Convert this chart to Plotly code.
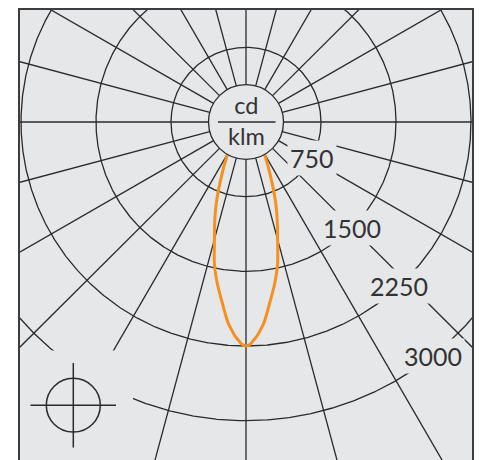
import numpy as np
import plotly.graph_objects as go

# ---- data (cd/klm) ----
ring_values = [750, 1500, 2250, 3000]
ring_labels = ["750", "1500", "2250", "3000"]
label_angles = [61, 45, 43, 38.5]          # where each ring label sits (deg from nadir)
spoke_angles = list(range(0, 360, 15))
beam_angles = [0, 1, 2, 3, 4, 5, 6, 7.5, 10, 12.5, 15, 17.5, 20, 22.5, 25, 27.5, 30, 32.5, 35, 40, 45, 50, 55, 60]
beam_values = [2250, 2236, 2192, 2149, 2090, 2030, 1950, 1828, 1650, 1460, 1220, 1040, 870, 700, 560, 450, 360, 280, 210, 110, 50, 20, 5, 0]
hub_value = 375
unit_top = "cd"
unit_bottom = "klm"

BG = "#e6e7e9"
GRID = "#2a2a2a"
FRAME = "#3d3d3d"
ORANGE = "#f7901e"
TXT = "#333333"
FONT = "Lato"

# page offset of the figure div (body margin) is 8px
OFF = 8.0
# pixel helpers (0.1 px per cd/klm, centre at page px (246,120.5))
CX, CY, S = 246.0, 120.5, 10.0
def px2x(px): return (px - CX) * S
def py2y(py): return (CY - py) * S

def pol(r, deg):
    t = np.radians(deg)
    return r * np.sin(t), -r * np.cos(t)

fig = go.Figure()

th = np.linspace(0, 360, 1441)
for v in ring_values:
    x, y = pol(v, th)
    fig.add_trace(go.Scatter(x=x, y=y, mode="lines", line=dict(color=GRID, width=1.3),
                             hoverinfo="skip", showlegend=False))

sx, sy = [], []
for a in spoke_angles:
    x0, y0 = pol(hub_value, a)
    x1, y1 = pol(9000, a)
    sx += [x0, x1, None]
    sy += [y0, y1, None]
fig.add_trace(go.Scatter(x=sx, y=sy, mode="lines", line=dict(color=GRID, width=1.3),
                         hoverinfo="skip", showlegend=False))

ang = np.array([-a for a in beam_angles[::-1]] + beam_angles[1:], dtype=float)
val = np.array(beam_values[::-1] + beam_values[1:], dtype=float)
bx, by = pol(val, ang)
fig.add_trace(go.Scatter(x=bx, y=by, mode="lines",
                         line=dict(color=ORANGE, width=3, shape="spline", smoothing=0.8),
                         hoverinfo="skip", showlegend=False))

shapes = [
    # mask for luminaire symbol
    dict(type="rect", xref="x", yref="y", x0=px2x(21.5), x1=px2x(133), y0=py2y(350), y1=py2y(480),
         fillcolor=BG, line=dict(width=0), layer="above"),
    # hub
    dict(type="circle", xref="x", yref="y", x0=-hub_value, y0=-hub_value, x1=hub_value, y1=hub_value,
         fillcolor=BG, line=dict(color=GRID, width=1.3), layer="above"),
    dict(type="line", xref="x", yref="y", x0=px2x(218), x1=px2x(275.5), y0=0, y1=0,
         line=dict(color=GRID, width=1.3), layer="above"),
    # luminaire symbol
    dict(type="circle", xref="x", yref="y", x0=px2x(73.3 - 27), x1=px2x(73.3 + 27),
         y0=py2y(405 + 27), y1=py2y(405 - 27), line=dict(color=GRID, width=1.5), layer="above"),
    dict(type="line", xref="x", yref="y", x0=px2x(30.5), x1=px2x(116), y0=py2y(405), y1=py2y(405),
         line=dict(color=GRID, width=1.5), layer="above"),
    dict(type="line", xref="x", yref="y", x0=px2x(73.3), x1=px2x(73.3), y0=py2y(362.5), y1=py2y(447.5),
         line=dict(color=GRID, width=1.5), layer="above"),
]

annotations = []
for v, lab, a in zip(ring_values, ring_labels, label_angles):
    x, y = pol(v, a)
    annotations.append(dict(x=x, y=y, xref="x", yref="y", text=lab, showarrow=False,
                            font=dict(family=FONT, size=25, color=TXT),
                            bgcolor=BG, borderpad=2, xanchor="center", yanchor="middle"))
# unit fraction inside the hub (one two-line text)
annotations.append(dict(x=0, y=py2y(119), xref="x", yref="y",
                        text=unit_top + "<br>" + unit_bottom, showarrow=False,
                        font=dict(family=FONT, size=23.5, color=TXT),
                        xanchor="center", yanchor="middle", align="center"))

axis_common = dict(showgrid=False, zeroline=False, showticklabels=False, ticks="",
                   showline=True, mirror=True, linecolor=FRAME, linewidth=2, fixedrange=True)

fig.update_layout(
    width=476, height=452,
    margin=dict(l=20 - OFF, r=12, t=8 - OFF, b=0),
    paper_bgcolor="white", plot_bgcolor=BG,
    xaxis=dict(range=[px2x(20), px2x(472)], **axis_common),
    yaxis=dict(range=[py2y(460), py2y(8)], **axis_common),
    shapes=shapes, annotations=annotations, showlegend=False,
)

fig.write_html("out.html")
